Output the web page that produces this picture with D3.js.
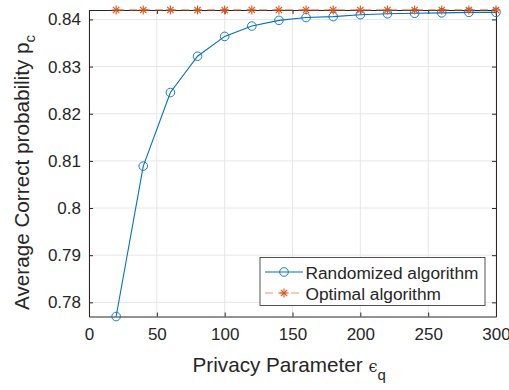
<!DOCTYPE html>
<html><head><meta charset="utf-8">
<script src="https://cdn.jsdelivr.net/npm/d3@7/dist/d3.min.js"></script>
<style>body{margin:0;background:#fff}svg{display:block}text{font-family:"Liberation Sans",Arial,sans-serif;fill:#262626}</style>
</head><body><svg id="c" width="509" height="390"></svg>
<script>
const xValues=[20,40,60,80,100,120,140,160,180,200,220,240,260,280,300];
const randomized=[0.777,0.8089,0.8245,0.8322,0.8364,0.8386,0.8398,0.8404,0.8406,0.8410,0.8412,0.8413,0.8414,0.8415,0.8415];
const optimal=[0.842,0.842,0.842,0.842,0.842,0.842,0.842,0.842,0.842,0.842,0.842,0.842,0.842,0.842,0.842];
const xTicks=[0,50,100,150,200,250,300];
const yTicks=[0.78,0.79,0.8,0.81,0.82,0.83,0.84];
const seriesNames=["Randomized algorithm","Optimal algorithm"];

const svg=d3.select("#c");
const L=89,R=496,T=10,B=316.5;
const x=d3.scaleLinear().domain([0,300]).range([L,R]);
const y=d3.scaleLinear().domain([0.777,0.842]).range([B,T]);
const blue="#0072BD",orange="#D95319";
// grid
svg.append("g").selectAll("line").data(xTicks).join("line")
 .attr("x1",d=>x(d)).attr("x2",d=>x(d)).attr("y1",T).attr("y2",B).attr("stroke","#e6e6e6");
svg.append("g").selectAll("line").data(yTicks).join("line")
 .attr("y1",d=>y(d)).attr("y2",d=>y(d)).attr("x1",L).attr("x2",R).attr("stroke","#e6e6e6");
// axes
const fs=17;
const xa=svg.append("g").attr("transform",`translate(0,${B})`).call(d3.axisBottom(x).tickValues(xTicks).tickSizeInner(-4).tickSizeOuter(0).tickPadding(11).tickFormat(d3.format("d")));
const xt=svg.append("g").attr("transform",`translate(0,${T})`).call(d3.axisTop(x).tickValues(xTicks).tickSizeInner(-4).tickSizeOuter(0).tickFormat(""));
const ya=svg.append("g").attr("transform",`translate(${L},0)`).call(d3.axisLeft(y).tickValues(yTicks).tickSizeInner(-4).tickSizeOuter(0).tickPadding(8).tickFormat(d=>d3.format("")(+d.toFixed(2))));
const yr=svg.append("g").attr("transform",`translate(${R},0)`).call(d3.axisRight(y).tickValues(yTicks).tickSizeInner(-4).tickSizeOuter(0).tickFormat(""));
[xa,xt,ya,yr].forEach(g=>{g.select(".domain").attr("stroke","#262626");g.selectAll(".tick line").attr("stroke","#262626");g.selectAll("text").attr("font-size",fs).attr("font-family","Liberation Sans, Arial, sans-serif").attr("fill","#262626");});
// lines
const line=d3.line().x((d,i)=>x(xValues[i])).y(d=>y(d));
svg.append("path").datum(optimal).attr("d",line).attr("fill","none").attr("stroke",orange).attr("stroke-width",1.2).attr("stroke-dasharray","8,5");
svg.append("path").datum(randomized).attr("d",line).attr("fill","none").attr("stroke",blue).attr("stroke-width",1.1);
svg.append("g").selectAll("circle").data(randomized).join("circle")
 .attr("cx",(d,i)=>x(xValues[i])).attr("cy",d=>y(d)).attr("r",4.3).attr("fill","none").attr("stroke",blue).attr("stroke-width",0.9);
function star(g,cx,cy,s){
  for(let a=0;a<4;a++){const t=a*Math.PI/4;g.append("line").attr("x1",cx-s*Math.cos(t)).attr("y1",cy-s*Math.sin(t)).attr("x2",cx+s*Math.cos(t)).attr("y2",cy+s*Math.sin(t)).attr("stroke",orange).attr("stroke-width",1.1);}
}
const sg=svg.append("g");
optimal.forEach((d,i)=>star(sg,x(xValues[i]),y(d),4.5));
// legend
const lg=svg.append("g");
lg.append("rect").attr("x",260).attr("y",257.5).attr("width",225).attr("height",48).attr("fill","#fff").attr("stroke","#262626").attr("stroke-width",0.8);
lg.append("line").attr("x1",265).attr("x2",303).attr("y1",272).attr("y2",272).attr("stroke",blue).attr("stroke-width",1.1);
lg.append("circle").attr("cx",284).attr("cy",272).attr("r",4.3).attr("fill","none").attr("stroke",blue).attr("stroke-width",0.9);
lg.append("line").attr("x1",265).attr("x2",303).attr("y1",293).attr("y2",293).attr("stroke",orange).attr("stroke-opacity",0.6).attr("stroke-width",1.2).attr("stroke-dasharray","8,5");
star(lg,284,293,4.5);
lg.append("text").attr("x",305.5).attr("y",278.5).attr("font-size",17.3).text(seriesNames[0]);
lg.append("text").attr("x",305.5).attr("y",299.5).attr("font-size",17.3).text(seriesNames[1]);
// labels
const xl=svg.append("text").attr("x",192.5).attr("y",371.5).attr("text-anchor","start").attr("font-size",20.7);
xl.append("tspan").text("Privacy Parameter ");
xl.append("tspan").attr("font-family","DejaVu Serif").attr("font-size",16).text("ϵ");
xl.append("tspan").attr("font-size",15).attr("dy",8).text("q");
const yl=svg.append("text").attr("transform",`translate(28.5,310) rotate(-90)`).attr("text-anchor","start").attr("font-size",20.7);
yl.append("tspan").text("Average Correct probability p");
yl.append("tspan").attr("font-size",15).attr("dy",6).text("c");
</script></body></html>
